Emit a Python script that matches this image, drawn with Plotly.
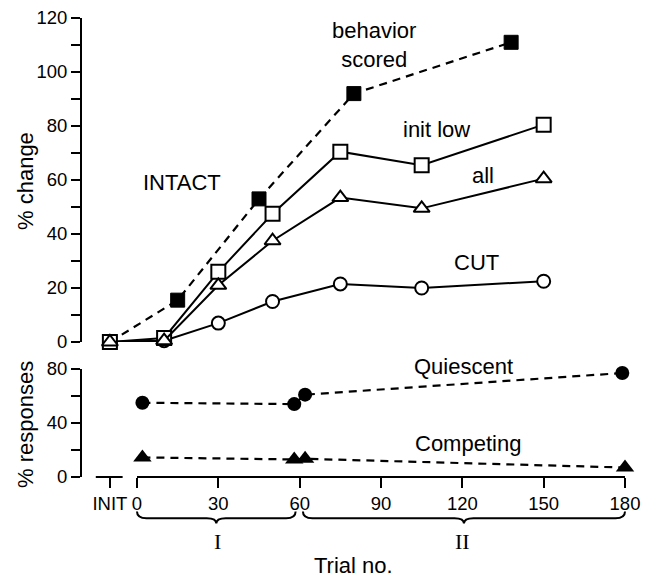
import plotly.graph_objects as go

# ---------------- data ----------------
INIT_POS = -10  # axis position used for the "INIT" category

intact_trials = [INIT_POS, 10, 30, 50, 75, 105, 150]
init_low = [0, 1.5, 26, 47.5, 70.5, 65.5, 80.5]
all_resp = [0, 0.5, 21, 37.5, 53.5, 49.5, 60.5]
cut_vals = [0, 0.5, 7, 15, 21.5, 20, 22.5]

behav_trials = [INIT_POS, 15, 45, 80, 138]
behav_vals = [0, 15.5, 53, 92, 111]

quies_trials = [2, 58, 62, 179]
quies_vals = [55, 54, 61, 77]
comp_trials = [2, 58, 62, 180]
comp_vals = [14.5, 13, 13.5, 7]

x_tickvals = [INIT_POS, 0, 30, 60, 90, 120, 150, 180]
x_ticktext = ["INIT", "0", "30", "60", "90", "120", "150", "180"]
y1_tickvals = list(range(0, 121, 10))
y1_ticktext = [str(v) if v % 20 == 0 else "" for v in y1_tickvals]
y2_tickvals = [0, 20, 40, 60, 80]
y2_ticktext = ["0", "", "40", "", "80"]

FONT = "Liberation Sans, Arial, Helvetica, sans-serif"
SERIF = "Liberation Serif, DejaVu Serif, serif"
BLACK = "black"

fig = go.Figure()

# top panel traces
fig.add_trace(go.Scatter(x=intact_trials, y=cut_vals, mode="lines+markers",
                         line=dict(color=BLACK, width=2),
                         marker=dict(symbol="circle", size=13, color="white",
                                     line=dict(color=BLACK, width=2)),
                         cliponaxis=False, xaxis="x", yaxis="y"))
fig.add_trace(go.Scatter(x=behav_trials, y=behav_vals, mode="lines+markers",
                         line=dict(color=BLACK, width=2.2, dash="8px,6px"),
                         marker=dict(symbol="square", size=14, color=BLACK,
                                     line=dict(color=BLACK, width=1)),
                         cliponaxis=False, xaxis="x", yaxis="y"))
fig.add_trace(go.Scatter(x=intact_trials, y=init_low, mode="lines+markers",
                         line=dict(color=BLACK, width=2),
                         marker=dict(symbol="square", size=14, color="white",
                                     line=dict(color=BLACK, width=2)),
                         cliponaxis=False, xaxis="x", yaxis="y"))
fig.add_trace(go.Scatter(x=intact_trials, y=all_resp, mode="lines+markers",
                         line=dict(color=BLACK, width=2),
                         marker=dict(symbol="triangle-up", size=14, color="white",
                                     line=dict(color=BLACK, width=2)),
                         cliponaxis=False, xaxis="x", yaxis="y"))

# bottom panel traces
fig.add_trace(go.Scatter(x=quies_trials, y=quies_vals, mode="lines+markers",
                         line=dict(color=BLACK, width=2.2, dash="8px,6px"),
                         marker=dict(symbol="circle", size=14, color=BLACK),
                         cliponaxis=False, xaxis="x", yaxis="y2"))
fig.add_trace(go.Scatter(x=comp_trials, y=comp_vals, mode="lines+markers",
                         line=dict(color=BLACK, width=2.2, dash="8px,6px"),
                         marker=dict(symbol="triangle-up", size=16, color=BLACK),
                         cliponaxis=False, xaxis="x", yaxis="y2"))

# ---------------- layout ----------------
W, H = 657, 578
OFF = 8                      # page body offset of the plot div
PL, PR, PT, PB = 82, 626, 18, 477   # target plot area in page pixels
L, T = PL - OFF, PT - OFF
R = W - L - (PR - PL)
B = H - T - (PB - PT)
pw, ph = PR - PL, PB - PT

x_scale = (625 - 137) / 180.0
x_lo = -(137 - PL) / x_scale
x_hi = 180 + (PR - 625) / x_scale

def px(p):   # page pixel x -> paper x
    return (p - PL) / pw

def py(p):   # page pixel y -> paper y
    return (PB - p) / ph

Y2_TOP = py(369)

def dx(v):   # data x -> paper x
    return (v - x_lo) / (x_hi - x_lo)

def dy2(v):  # y2 data -> paper y
    return v / 80.0 * Y2_TOP

axis_common = dict(showgrid=False, zeroline=False, ticks="outside",
                   tickcolor=BLACK, tickwidth=2, automargin=False,
                   ticklabeloverflow="allow",
                   tickfont=dict(family=FONT, size=18.5, color=BLACK))

fig.update_layout(
    width=W, height=H,
    margin=dict(l=L, r=R, t=T, b=B, autoexpand=False),
    paper_bgcolor="white", plot_bgcolor="white",
    showlegend=False,
    font=dict(family=FONT, size=21, color=BLACK),
    xaxis=dict(range=[x_lo, x_hi], domain=[0, 1], anchor="y2",
               tickvals=x_tickvals, ticktext=x_ticktext, ticklen=10,
               showline=False, **axis_common),
    yaxis=dict(range=[0, 120], domain=[py(342), 1], anchor="x",
               tickvals=y1_tickvals, ticktext=y1_ticktext, ticklen=9,
               showline=True, linecolor=BLACK, linewidth=2, **axis_common),
    yaxis2=dict(range=[0, 80], domain=[0, Y2_TOP], anchor="x",
                tickvals=y2_tickvals, ticktext=y2_ticktext, ticklen=9,
                showline=True, linecolor=BLACK, linewidth=2, **axis_common),
)

# broken x-axis line (INIT segment and trial segment)
for a, b in [(-15.2, -5.3), (0, 180)]:
    fig.add_shape(type="line", xref="paper", yref="paper",
                  x0=dx(a), x1=dx(b), y0=0, y1=0,
                  line=dict(color=BLACK, width=2))

# braces under the trial axis (phase I and phase II)
def brace(x0, x1, ytop=-25.5, ymid=-30.5, ytip=-34.5):
    xm = (x0 + x1) / 2
    c = 3.5
    P = lambda xv, yv: f"{dx(xv):.5f},{dy2(yv):.5f}"
    return (f"M {P(x0, ytop)} Q {P(x0, ymid)} {P(x0 + c, ymid)} "
            f"L {P(xm - c, ymid)} Q {P(xm, ymid)} {P(xm, ytip)} "
            f"Q {P(xm, ymid)} {P(xm + c, ymid)} "
            f"L {P(x1 - c, ymid)} Q {P(x1, ymid)} {P(x1, ytop)}")

fig.add_shape(type="path", xref="paper", yref="paper", path=brace(0, 58.5),
              line=dict(color=BLACK, width=2))
fig.add_shape(type="path", xref="paper", yref="paper", path=brace(61.2, 180),
              line=dict(color=BLACK, width=2))

def ann(text, x, y, size=22, angle=0, family=FONT):
    fig.add_annotation(text=text, x=x, y=y, xref="paper", yref="paper",
                       showarrow=False, xanchor="center", yanchor="middle",
                       textangle=angle, font=dict(family=family, size=size, color=BLACK))

ann("behavior<br>scored", px(374), py(45))
ann("init low", px(436), py(130))
ann("all", px(483), py(175))
ann("CUT", px(476), py(263))
ann("INTACT", px(182), py(182))
ann("Quiescent", px(463), py(366))
ann("Competing", px(468), py(443))
ann("I", px(217), py(541), family=SERIF)
ann("II", px(462), py(541), family=SERIF)
ann("Trial no.", px(353), py(565))
ann("% change", px(25), py(181), angle=-90)
ann("% responses", px(25), py(425), angle=-90)

fig.write_html("out.html")
